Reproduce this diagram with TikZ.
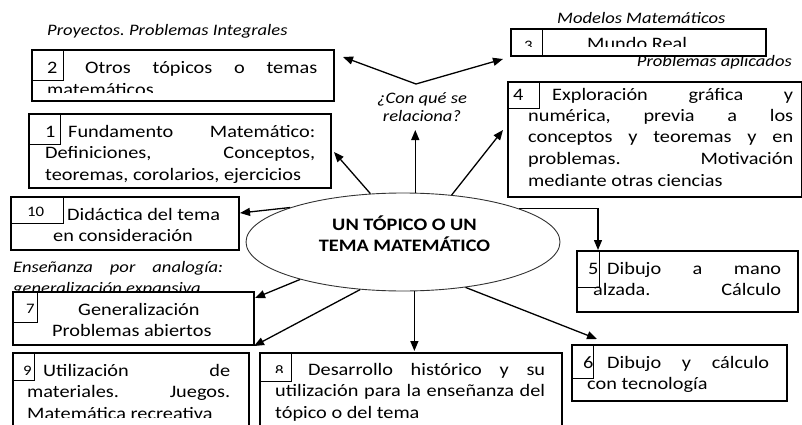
\documentclass[tikz,border=0pt]{standalone}
\usepackage{fontspec}
\setmainfont{Carlito}[FakeStretch=1.16]
\usetikzlibrary{arrows.meta,shapes.geometric}
\newcommand{\jus}[2]{\makebox[#1][s]{#2}}
\newcommand{\mylines}[1]{\begin{tabular}[t]{@{}l@{}}#1\end{tabular}}
\newcommand{\mylinesc}[1]{\begin{tabular}[t]{@{}c@{}}#1\end{tabular}}
\frenchspacing
\tikzset{
  boxnode/.style={draw, line width=1.6pt, fill=white, inner sep=0pt, anchor=north west},
  numb/.style={draw, line width=1.2pt, inner sep=0pt, anchor=north west},
  txt/.style={anchor=base west, inner sep=0pt, font=\fontsize{17.5}{21.5}\selectfont},
  smallnum/.style={anchor=base west, inner sep=0pt, font=\fontsize{14.5}{17}\selectfont},
  captxt/.style={anchor=base west, inner sep=0pt, font=\fontsize{16}{18.5}\selectfont\itshape},
  arr/.style={line width=1.3pt, -{Triangle[length=10pt,width=8pt]}},
}
\begin{document}
\begin{tikzpicture}[x=1pt,y=-1pt]
\useasboundingbox (0,0) rectangle (802,425);
\fill[white] (0,0) rectangle (802,425);

% captions
\node[captxt] (c1) at (47,36) {Proyectos. Problemas Integrales};
\node[captxt] (c2) at (557,23.5) {Modelos Matemáticos};
\node[captxt, anchor=base east] (c3) at (792,67) {Problemas aplicados};
\node[captxt, anchor=base] (c4) at (422,103) {\mylinesc{¿Con qué se\\relaciona?}};
\node[captxt, font=\fontsize{16}{21}\selectfont\itshape] (c5) at (13,272) {\mylines{\jus{210pt}{Enseñanza por analogía:}\\generalización expansiva}};

% central ellipse
\node[draw=black!80, line width=0.9pt, ellipse, inner sep=0pt, minimum width=314pt, minimum height=98pt] (topic) at (403,242) {};
\node[anchor=base, inner sep=0pt, font=\fontsize{17.5}{21}\selectfont\bfseries] (tt) at (404.5,230) {\mylinesc{UN TÓPICO O UN\\TEMA MATEMÁTICO}};

% box 2
\node[boxnode, minimum width=302pt, minimum height=51pt] (b2) at (31,49) {};
\begin{scope}
\clip (31,49) rectangle (333,93);
\node[txt] (t2) at (47,74) {\mylines{\hspace*{38pt}\jus{232pt}{Otros tópicos o temas}\\matemáticos}};
\end{scope}
\node[numb, minimum width=32pt, minimum height=31pt] (b2n) at (31,49) {};
\node[txt] (n2) at (47,74) {2};

% box 1
\node[boxnode, minimum width=302pt, minimum height=74pt] (b1) at (28,113) {};
\node[numb, minimum width=32pt, minimum height=31pt] (b1n) at (28,113) {};
\node[txt] (n1) at (45,137) {1};
\node[txt] (t1) at (45,137) {\mylines{\hspace*{23pt}\jus{247pt}{Fundamento Matemático:}\\\jus{270pt}{Definiciones, Conceptos,}\\teoremas, corolarios, ejercicios}};

% box 10
\node[boxnode, minimum width=228pt, minimum height=53pt] (b10) at (10,196) {};
\node[numb, minimum width=53pt, minimum height=27pt] (b10n) at (10,196) {};
\node[smallnum] (n10) at (27,216) {10};
\node[txt] (t10) at (53,220) {\mylines{\hspace*{14pt}Didáctica del tema\\en consideración}};

% box 3
\node[boxnode, minimum width=255pt, minimum height=27pt] (b3) at (510,28) {};
\begin{scope}
\clip (510,28) rectangle (765,47);
\node[smallnum] (n3) at (524,51) {3};
\node[txt] (t3) at (587,50) {Mundo Real};
\end{scope}
\node[numb, minimum width=32pt, minimum height=27pt] (b3n) at (510,28) {};

% box 4
\node[boxnode, minimum width=294pt, minimum height=115pt] (b4) at (507,81) {};
\node[numb, minimum width=32pt, minimum height=27pt] (b4n) at (507,81) {};
\node[txt] (n4) at (513,100) {4};
\node[txt] (t4) at (528,100) {\mylines{\hspace*{24pt}\jus{241pt}{Exploración gráfica y}\\\jus{265pt}{numérica, previa a los}\\\jus{265pt}{conceptos y teoremas y en}\\\jus{265pt}{problemas. Motivación}\\mediante otras ciencias}};

% box 5
\node[boxnode, minimum width=221pt, minimum height=61pt] (b5) at (576,250) {};
\node[numb, minimum width=23pt, minimum height=37pt] (b5n) at (576,250) {};
\node[txt] (n5) at (588,274) {5};
\node[txt] (t5) at (593,274) {\mylines{\hspace*{14pt}\jus{174pt}{Dibujo a mano}\\\jus{188pt}{alzada. Cálculo}}};

% box 6
\node[boxnode, minimum width=215pt, minimum height=56pt] (b6) at (571,344) {};
\node[numb, minimum width=22pt, minimum height=34pt] (b6n) at (571,344) {};
\node[txt] (n6) at (583,368) {6};
\node[txt] (t6) at (587,368) {\mylines{\hspace*{20pt}\jus{162pt}{Dibujo y cálculo}\\con tecnología}};

% box 7
\node[boxnode, minimum width=241pt, minimum height=53pt] (b7) at (12,291) {};
\node[numb, minimum width=25pt, minimum height=31pt] (b7n) at (12,291) {};
\node[smallnum] (n7) at (26,313) {7};
\node[txt] (t7) at (52,315) {\mylines{\hspace*{26pt}Generalización\\Problemas abiertos}};

% box 9
\node[boxnode, minimum width=236pt, minimum height=80pt] (b9) at (12,352) {};
\node[numb, minimum width=22pt, minimum height=28pt] (b9n) at (12,352) {};
\node[smallnum] (n9) at (23,375) {9};
\begin{scope}
\clip (12,352) rectangle (248,417);
\node[txt] (t9) at (27,376) {\mylines{\hspace*{16pt}\jus{187pt}{Utilización de}\\\jus{203pt}{materiales. Juegos.}\\Matemática recreativa}};
\end{scope}

% box 8
\node[boxnode, minimum width=302pt, minimum height=80pt] (b8) at (259,352) {};
\begin{scope}
\clip (259,352) rectangle (291,372);
\node[smallnum] (n8) at (275,375) {8};
\end{scope}
\node[numb, minimum width=32pt, minimum height=29pt] (b8n) at (259,352) {};
\node[txt] (t8) at (275,375) {\mylines{\hspace*{33pt}\jus{237pt}{Desarrollo histórico y su}\\\jus{270pt}{utilización para la enseñanza del}\\tópico o del tema}};

% arrow end points
\coordinate (e1) at (415,130);
\coordinate (v) at (416,84);
\coordinate (e2) at (343,57);
\coordinate (e3b) at (503,59);
\coordinate (e11) at (334,152);
\coordinate (e4) at (503,130);
\coordinate (e10) at (240,213);
\coordinate (e5) at (598,250);
\coordinate (e7) at (255,298);
\coordinate (e9) at (254,346);
\coordinate (e8) at (415,351);
\coordinate (e6) at (597,339);

% arrows
\draw[arr] (topic.76) -- (topic.76 |- e1);
\draw[arr] (v) -- (e2);
\draw[arr] (v) -- (e3b);
\draw[arr] (topic.124.5) -- (e11);
\draw[arr] (topic.44) -- (e4);
\draw[arr] (topic.163.3) -- (e10);
\draw[arr] (topic.16.2) -| (e5);
\draw[arr] (topic.200.7) -- (e7);
\draw[arr] (topic.228.1) -- (e9);
\draw[arr] (topic.283.8) -- (topic.283.8 |- e8);
\draw[arr] (topic.324.6) -- (e6);
\end{tikzpicture}
\end{document}
